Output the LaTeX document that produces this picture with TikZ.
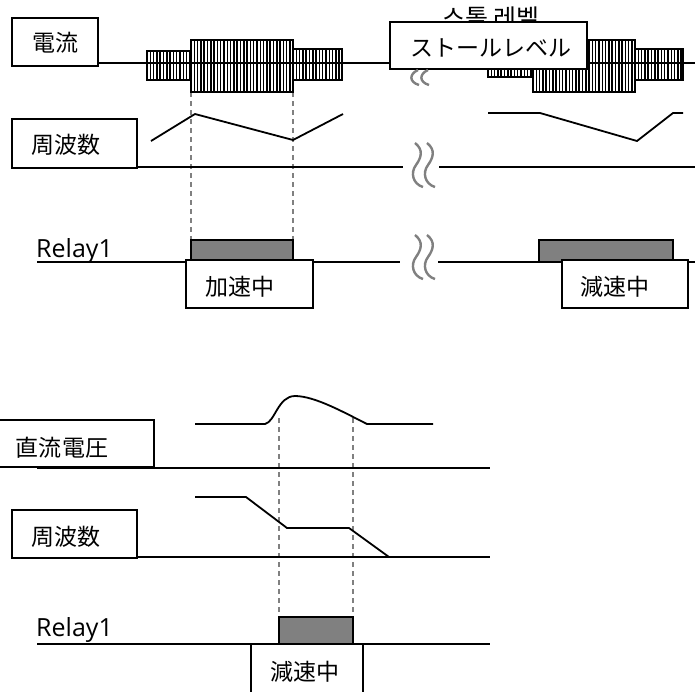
\documentclass[tikz,border=0pt]{standalone}
\usepackage{fontspec}
\newfontfamily\jp{Noto Sans CJK JP}
\newfontfamily\kr{Noto Sans CJK KR}
\newfontfamily\lat{Open Sans}
\definecolor{mygray}{HTML}{808080}
\tikzset{
  box/.style={draw, line width=1.6pt, fill=white, inner sep=0pt},
  jtxt/.style={inner sep=0pt, font=\jp\fontsize{23}{25}\selectfont},
  rtxt/.style={inner sep=0pt, anchor=base west, font=\lat\fontsize{25}{27}\selectfont},
  base/.style={line width=2.4pt},
  sig/.style={line width=1.8pt, line join=miter},
  dsh/.style={mygray, line width=1.4pt, dash pattern=on 5pt off 4pt},
  brk/.style={mygray, line width=2.4pt},
  relayfill/.style={fill=mygray, draw=black, line width=1.6pt},
  bandbox/.style={draw=black, line width=1.5pt}
}
\newcommand\hband[4]{%
  \fill[white] (#1,#2) rectangle (#3,#4);
  \begin{scope}
    \clip (#1,#2) rectangle (#3,#4);
    \foreach \xx in {0,3.3,...,120} \draw[line width=1.5pt] ({#1+\xx},#2) -- ({#1+\xx},#4);
  \end{scope}
  \draw[bandbox] (#1,#2) rectangle (#3,#4);}
\newcommand\brkmark[2]{%
  \foreach \dx in {0,12} \draw[brk] ({#1+\dx},{#2-22}) .. controls ({#1+\dx+9},{#2-15}) and ({#1+\dx+6},{#2-7}) .. ({#1+\dx+1},{#2}) .. controls ({#1+\dx-5},{#2+8}) and ({#1+\dx-2},{#2+19}) .. ({#1+\dx+8},{#2+22});}
\begin{document}
\begin{tikzpicture}[x=1pt,y=-1pt]
\useasboundingbox (0,0) rectangle (695,691);
\fill[white] (0,0) rectangle (695,691);

% ---------- upper chart ----------
\draw[dsh] (191,92) -- (191,240);
\draw[dsh] (293,92) -- (293,240);

% current hatched bands
\hband{147}{51}{191}{80}
\hband{293}{49}{342}{80}
\hband{191}{40}{293}{92}
\hband{488}{50}{533}{77}
\hband{635}{49}{683}{80}
\hband{533}{40}{635}{92}

% current baseline
\draw[base] (98,63) -- (390,63);
\draw[base] (587,63) -- (695,63);

% korean label partly hidden behind box
\node[inner sep=0pt, font=\kr\fontsize{25}{27}\selectfont] (krl) at (491,18) {스톨 레벨};

% stall-level box
\node[box, minimum width=197pt, minimum height=47pt] (stallbox) at (488.5,45.5) {};
\node[jtxt] (stall) at (491,48) {ストールレベル};

% partial break marks under box
\foreach \dx in {0,10} \draw[brk] ({418+\dx},70) .. controls ({409+\dx},74) and ({409+\dx},82) .. ({419+\dx},85);

% current label box
\node[box, minimum width=86pt, minimum height=48pt] (curbox) at (55,42) {};
\node[jtxt] (cur) at (55,43) {電流};

% frequency row 1
\draw[sig] (151,141) -- (195,114) -- (293,140) -- (343,114);
\draw[sig] (488,113) -- (540,113) -- (637,141) -- (673,113) -- (683,113);
\draw[base] (137,167) -- (403,167);
\draw[base] (439,167) -- (695,167);
\brkmark{415}{165}
\node[box, minimum width=125pt, minimum height=49pt] (f1box) at (74.5,143.5) {};
\node[jtxt] (f1) at (66,145) {周波数};

% relay row 1
\node[rtxt] (r1) at (36,257) {Relay1};
\draw[base] (37,262) -- (400,262);
\draw[base] (438,262) -- (695,262);
\brkmark{415}{257}
\draw[relayfill] (191,240) rectangle (293,262);
\draw[relayfill] (539,240) rectangle (673,262);
\node[box, minimum width=127pt, minimum height=48pt] (accbox) at (249.5,284) {};
\node[jtxt] (acc) at (240,287) {加速中};
\node[box, minimum width=126pt, minimum height=48pt] (decbox) at (625,284) {};
\node[jtxt] (dec) at (615,287) {減速中};

% ---------- lower chart ----------
\draw[dsh] (279,418) -- (279,617);
\draw[dsh] (353,418) -- (353,617);

% DC voltage
\draw[sig] (195,424) -- (265,424) .. controls (275,422) and (278,396) .. (295,396) .. controls (315,396) and (345,413) .. (367,424) -- (433,424);
\draw[base] (37,468) -- (490,468);
\node[box, minimum width=161pt, minimum height=47pt] (dcbox) at (73.5,443.5) {};
\node[jtxt] (dc) at (62,448) {直流電圧};

% frequency row 2
\draw[sig] (195,497) -- (246,497) -- (287,528) -- (349,528) -- (389,557);
\draw[base] (137,557) -- (490,557);
\node[box, minimum width=125pt, minimum height=48pt] (f2box) at (74.5,534) {};
\node[jtxt] (f2) at (66,537) {周波数};

% relay row 2
\node[rtxt] (r2) at (36,636) {Relay1};
\draw[base] (37,644) -- (490,644);
\draw[relayfill] (279,617) rectangle (353,644);
\node[box, minimum width=112pt, minimum height=56pt] (dec2box) at (307,672) {};
\node[jtxt] (dec2) at (305,672) {減速中};
\end{tikzpicture}
\end{document}
